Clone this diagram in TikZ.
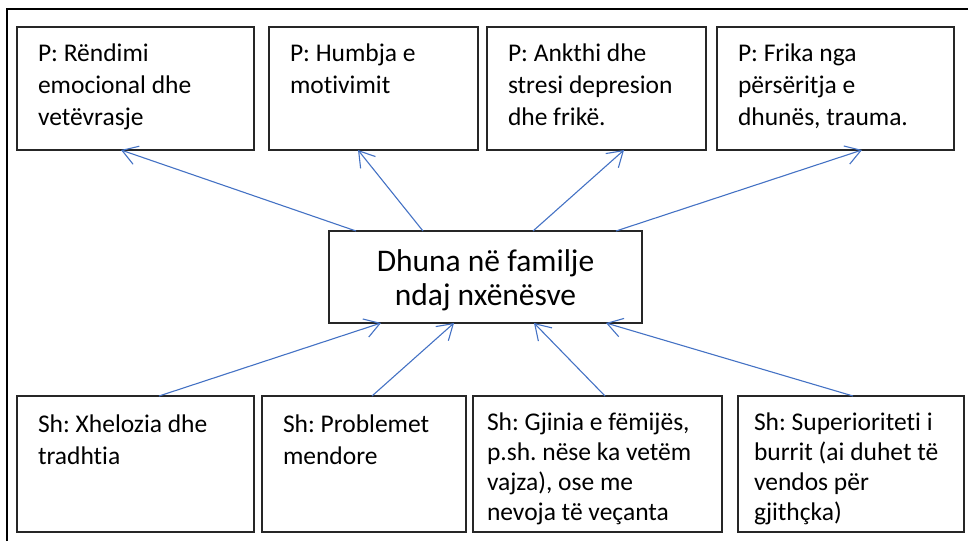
\documentclass[tikz,border=0pt]{standalone}
\usepackage{fontspec}
\setmainfont{Carlito}[Ligatures={NoCommon}]
\usetikzlibrary{arrows.meta}
\definecolor{arrblue}{HTML}{4472C4}
\definecolor{boxline}{HTML}{262626}
\frenchspacing
\tikzset{
  box/.style={draw=boxline, line width=1.2pt, inner sep=0pt, outer sep=0pt, anchor=north west, fill=white},
  lbl/.style={anchor=north west, inner sep=0pt, outer sep=0pt, align=left,
              font=\frenchspacing\fontsize{25.5}{32}\selectfont},
  lblb/.style={lbl, font=\frenchspacing\fontsize{25.5}{30}\selectfont},
  ctr/.style={align=center, inner sep=0pt, font=\fontsize{31.5}{34}\selectfont},
  arr/.style={draw=arrblue, line width=1.1pt, -{Straight Barb[length=15pt,width=19pt,line width=1.1pt]}},
  frame/.style={draw=black, line width=2pt}
}
\begin{document}
\begin{tikzpicture}[x=1pt,y=1pt]
\useasboundingbox (0,0) rectangle (968,-541);
\coordinate (fa) at (7,-541);
\coordinate (fb) at (7,-9);
\coordinate (fc) at (968,-9);
\draw[frame] (fa) -- (fb) -- (fc);

% top boxes
\node[box, minimum width=237pt, minimum height=123pt] (t1) at (17,-27) {};
\node[box, minimum width=209pt, minimum height=123pt] (t2) at (269,-27) {};
\node[box, minimum width=219pt, minimum height=123pt] (t3) at (487,-27) {};
\node[box, minimum width=237pt, minimum height=123pt] (t4) at (717,-27) {};

\node[lbl] (t1l) at ([shift={(21pt,-12pt)}]t1.north west) {\strut P: Rëndimi\\emocional dhe\\vetëvrasje};
\node[lbl] (t2l) at ([shift={(21pt,-12pt)}]t2.north west) {\strut P: Humbja e\\mot\kern0pt ivimit};
\node[lbl] (t3l) at ([shift={(21pt,-12pt)}]t3.north west) {\strut P: Ankthi dhe\\stresi depresion\\dhe frikë.};
\node[lbl] (t4l) at ([shift={(21pt,-12pt)}]t4.north west) {\strut P: Frika nga\\përsëritja e\\dhunës, trauma.};

% centre
\node[box, minimum width=313pt, minimum height=92pt] (c) at (329,-231) {};
\node[ctr] (cl) at ([yshift=-3pt]c.center) {Dhuna në familje\\ndaj nxënësve};

% bottom boxes
\node[box, minimum width=237pt, minimum height=136pt] (b1) at (17,-396) {};
\node[box, minimum width=204pt, minimum height=136pt] (b2) at (262,-396) {};
\node[box, minimum width=249pt, minimum height=136pt] (b3) at (473,-396) {};
\node[box, minimum width=226pt, minimum height=136pt] (b4) at (738,-396) {};

\node[lbl] (b1l) at ([shift={(21pt,-13.6pt)}]b1.north west) {\strut Sh: Xhelozia dhe\\tradht\kern0pt ia};
\node[lbl] (b2l) at ([shift={(21pt,-13.6pt)}]b2.north west) {\strut Sh: Problemet\\mendore};
\node[lblb] (b3l) at ([shift={(14pt,-13pt)}]b3.north west) {\strut Sh: Gjinia e fëmijës,\\p.sh. nëse ka vetëm\\vajza), ose me\\nevoja të veçanta};
\node[lblb] (b4l) at ([shift={(16pt,-13pt)}]b4.north west) {\strut Sh: Superioritet\kern0pt i i\\burrit (ai duhet të\\vendos për\\gjithçka)};

% arrows from centre to top boxes
\draw[arr] ([xshift=27pt]c.north west) -- ([xshift=104pt]t1.south west);
\draw[arr] ([xshift=94pt]c.north west) -- ([xshift=89pt]t2.south west);
\draw[arr] ([xshift=204pt]c.north west) -- ([xshift=137pt]t3.south west);
\draw[arr] ([xshift=287pt]c.north west) -- ([xshift=145pt]t4.south west);

% arrows from bottom boxes to centre
\draw[arr] ([xshift=142pt]b1.north west) -- ([xshift=52pt]c.south west);
\draw[arr] ([xshift=110pt]b2.north west) -- ([xshift=125pt]c.south west);
\draw[arr] ([xshift=132pt]b3.north west) -- ([xshift=205pt]c.south west);
\draw[arr] ([xshift=115pt]b4.north west) -- ([xshift=277pt]c.south west);
\end{tikzpicture}
\end{document}
